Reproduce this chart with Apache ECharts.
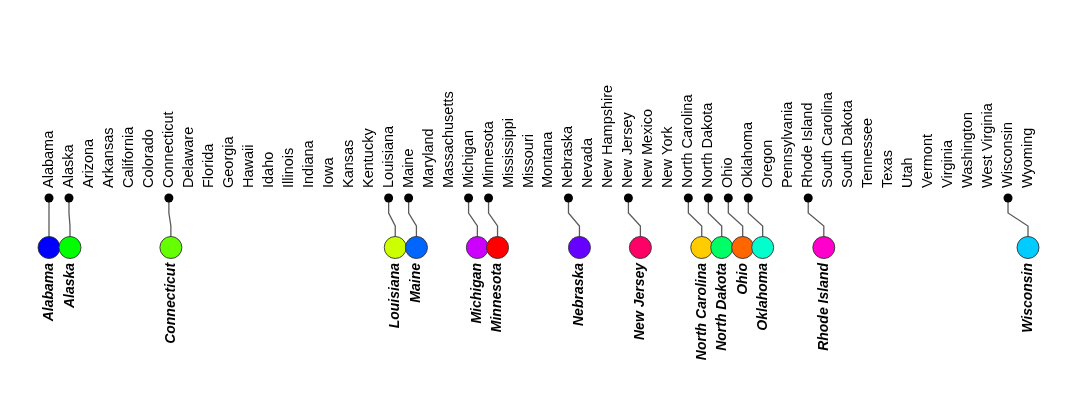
<!DOCTYPE html>
<html>
<head>
<meta charset="utf-8">
<script src="https://cdn.jsdelivr.net/npm/echarts@6/dist/echarts.min.js"></script>
<style>
  html, body { margin: 0; padding: 0; background: #fff; }
  #chart { width: 1080px; height: 404px; }
</style>
</head>
<body>
<div id="chart"></div>
<script>
// all 50 states, one tick each along the top
const states = [
  "Alabama", "Alaska", "Arizona", "Arkansas", "California", "Colorado", "Connecticut",
  "Delaware", "Florida", "Georgia", "Hawaii", "Idaho", "Illinois", "Indiana", "Iowa",
  "Kansas", "Kentucky", "Louisiana", "Maine", "Maryland", "Massachusetts", "Michigan",
  "Minnesota", "Mississippi", "Missouri", "Montana", "Nebraska", "Nevada", "New Hampshire",
  "New Jersey", "New Mexico", "New York", "North Carolina", "North Dakota", "Ohio",
  "Oklahoma", "Oregon", "Pennsylvania", "Rhode Island", "South Carolina", "South Dakota",
  "Tennessee", "Texas", "Utah", "Vermont", "Virginia", "Washington", "West Virginia",
  "Wisconsin", "Wyoming"
];

// highlighted states and where their circles landed (axis units, after repel)
const picked = [
  "Alabama", "Alaska", "Connecticut", "Louisiana", "Maine", "Michigan", "Minnesota",
  "Nebraska", "New Jersey", "North Carolina", "North Dakota", "Ohio", "Oklahoma",
  "Rhode Island", "Wisconsin"
];
const circleX = [0, 1.05, 6.1, 17.33, 18.39, 21.44, 22.45, 26.55, 29.6, 32.67, 33.67, 34.72, 35.72, 38.78, 49.0];
const circleColors = [
  "#0000FF", "#00FF00", "#66FF00", "#CCFF00", "#0066FF", "#CC00FF", "#FF0000",
  "#6600FF", "#FF0066", "#FFCC00", "#00FF66", "#FF6600", "#00FFCC", "#FF00CC", "#00CCFF"
];

// vertical levels on the hidden y axis
const dotY = 8;
const bend1Y = 23;
const bend2Y = 36;
const circleY = 57.5;

const chart = echarts.init(document.getElementById("chart"));

const pickedIdx = picked.map((s) => states.indexOf(s));

const option = {
  animation: false,
  textStyle: { fontFamily: "Liberation Sans, Arial, sans-serif" },
  grid: { left: 49, right: 52, top: 190, height: 100 },
  xAxis: {
    type: "value",
    position: "top",
    min: 0,
    max: 49,
    interval: 1,
    axisLine: { show: false },
    axisTick: { show: false },
    splitLine: { show: false },
    axisLabel: {
      rotate: 90,
      margin: 2,
      fontSize: 14.5,
      color: "#000",
      formatter: (v) => states[v] || "",
    },
  },
  yAxis: { type: "value", inverse: true, min: 0, max: 100, show: false },
  series: [
    {
      type: "lines",
      coordinateSystem: "cartesian2d",
      polyline: true,
      silent: true,
      z: 1,
      lineStyle: { color: "#5a5a5a", width: 1.3, opacity: 1 },
      data: pickedIdx.map((i, k) => ({
        coords: [[i, dotY], [i, bend1Y], [circleX[k], bend2Y], [circleX[k], circleY]],
      })),
    },
    {
      type: "scatter",
      z: 2,
      symbolSize: 9,
      itemStyle: { color: "#000", opacity: 1 },
      data: pickedIdx.map((i) => [i, dotY]),
    },
    {
      type: "scatter",
      z: 3,
      symbolSize: 22,
      itemStyle: { borderColor: "#333", borderWidth: 0.9, opacity: 1 },
      label: {
        show: true,
        position: "bottom",
        distance: 4,
        rotate: 90,
        align: "right",
        verticalAlign: "middle",
        fontSize: 14,
        fontWeight: "bold",
        fontStyle: "italic",
        color: "#000",
        formatter: (p) => p.name,
      },
      data: picked.map((s, k) => ({
        name: s,
        value: [circleX[k], circleY],
        itemStyle: { color: circleColors[k] },
      })),
    },
  ],
};

chart.setOption(option);
</script>
</body>
</html>
